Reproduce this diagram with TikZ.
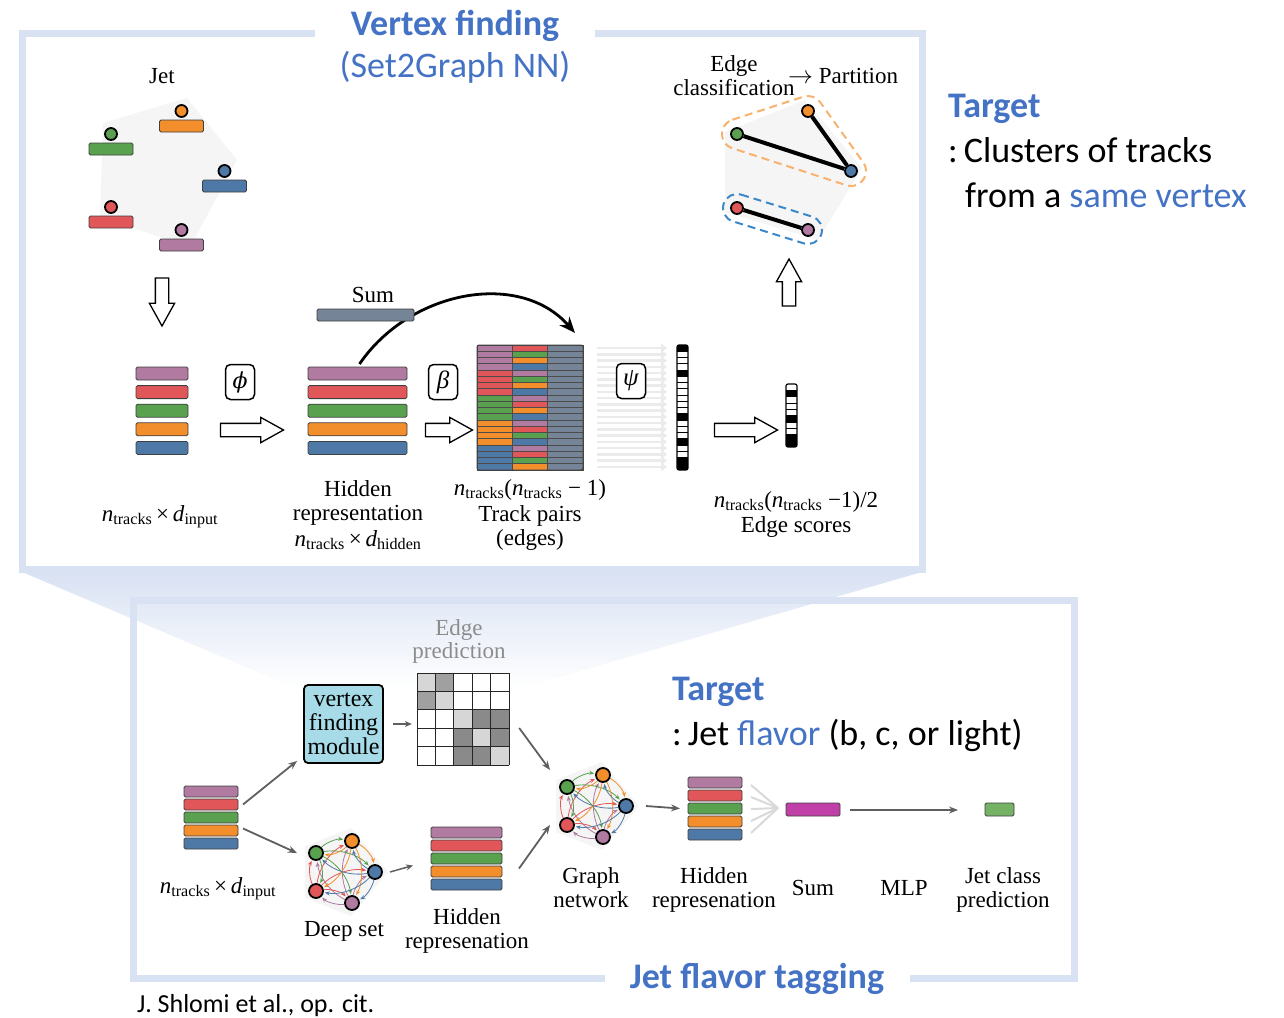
\documentclass[tikz,border=0pt]{standalone}
\usepackage{fontspec}
\setmainfont{Liberation Serif}
\newfontfamily\sansfont{Carlito}
\newfontfamily\greekserif{DejaVu Serif}
\usetikzlibrary{shapes.arrows,arrows.meta,calc}

\definecolor{cpurple}{RGB}{176,122,161}
\definecolor{cred}{RGB}{225,87,89}
\definecolor{cgreen}{RGB}{89,161,79}
\definecolor{corange}{RGB}{242,142,43}
\definecolor{cblue}{RGB}{78,121,167}
\definecolor{cslate}{RGB}{118,132,152}
\definecolor{cmagenta}{RGB}{192,64,168}
\definecolor{clgreen}{RGB}{118,178,102}
\definecolor{frameblue}{RGB}{217,226,243}
\definecolor{titleblue}{RGB}{68,114,196}
\definecolor{modcyan}{RGB}{166,219,231}
\definecolor{flowgray}{RGB}{95,95,95}
\definecolor{faintgray}{RGB}{245,245,245}
\definecolor{labgray}{RGB}{140,140,140}
\definecolor{cellL}{RGB}{214,214,214}
\definecolor{cellM}{RGB}{160,160,160}
\definecolor{cellD}{RGB}{138,138,138}
\definecolor{hullorange}{RGB}{247,178,112}
\definecolor{hullblue}{RGB}{60,135,200}
\colorlet{tc1}{cpurple}
\colorlet{tc2}{cred}
\colorlet{tc3}{cgreen}
\colorlet{tc4}{corange}
\colorlet{tc5}{cblue}

\newcommand\ntr{\textit{n}\textsubscript{tracks}}
\newcommand\dsub[1]{\textit{d}\textsubscript{#1}}

\tikzset{
  trk/.style={draw=black!75, line width=0.8pt, rounded corners=1.5pt, inner sep=0pt, outer sep=0pt},
  lbl/.style={font=\fontsize{23}{25}\selectfont, inner sep=0pt, anchor=base},
  sanslbl/.style={font=\sansfont\fontsize{36}{40}\selectfont, inner sep=0pt, anchor=base west},
  hollow/.style={single arrow, draw=black, line width=1.3pt, fill=white, inner sep=6pt, outer sep=0pt,
     single arrow head extend=6pt, single arrow tip angle=58, minimum height=#1},
  opbox/.style={draw=black, line width=1.5pt, rounded corners=5pt, minimum width=29pt,
     minimum height=35pt, inner sep=0pt, font=\fontsize{25}{25}\selectfont\itshape},
  flow/.style={draw=flowgray, line width=1.8pt, -{Stealth[length=9pt,width=7pt]}},
  dot/.style={circle, draw=black, line width=1.8pt, minimum size=11pt, inner sep=0pt},
  frame/.style={draw=frameblue, line width=7pt},
}

% a set of five tracks drawn as a fully connected graph
\newcommand\trackgraph[3]{%
  \fill[faintgray] (#2-40,#3-26) -- (#2+6,#3-44) -- (#2+43,#3) -- (#2+6,#3+44) -- (#2-40,#3+26) -- cycle;
  \foreach \nm/\dx/\dy in {1/7/31, 2/-29/19, 3/-29/-19, 4/7/-31, 5/30/0}
    \coordinate (#1\nm) at (#2+\dx,#3+\dy);
  \foreach \i in {1,...,5}{\foreach \j in {1,...,5}{\ifnum\i=\j\relax\else
     \draw[tc\i, line width=0.8pt, -{Stealth[length=5pt,width=4pt]}, shorten <=8pt, shorten >=9pt]
        (#1\i) to[bend left=28] (#1\j);
  \fi}}
  \foreach \nm in {1,...,5} \node[dot, fill=tc\nm, minimum size=14pt] (#1n\nm) at (#1\nm) {};
}

\begin{document}
\begin{tikzpicture}[x=1pt,y=-1pt]
\useasboundingbox (0,0) rectangle (1284,1017);

% band joining the two panels
\shade[top color=frameblue, bottom color=white] (22,572) -- (922,572) -- (515,690) -- (300,690) -- cycle;

\draw[frame] (22,33) rectangle (922,569);
\draw[frame] (133,600) rectangle (1074,978);

% ---------- titles ----------
\node[font=\sansfont\bfseries\fontsize{36}{40}\selectfont, text=titleblue, fill=white,
      minimum width=280pt, inner ysep=4pt, anchor=base] (vftitle) at (455,35) {Vertex finding};
\node[font=\sansfont\fontsize{36}{40}\selectfont, text=titleblue, inner sep=0pt, anchor=base]
      (vfsub) at (455,77) {(Set2Graph NN)};
\node[font=\sansfont\bfseries\fontsize{36}{40}\selectfont, text=titleblue, fill=white,
      minimum width=305pt, inner ysep=4pt, anchor=base] (jftitle) at (757,988) {Jet flavor tagging};

\node[sanslbl, font=\sansfont\bfseries\fontsize{36}{40}\selectfont, text=titleblue] (tgt1) at (948,117) {Target};
\node[sanslbl] (tgt1a) at (948,162) {:\,Clusters of tracks};
\node[sanslbl] (tgt1b) at (965,207) {from a \textcolor{titleblue}{same vertex}};

\node[sanslbl, font=\sansfont\bfseries\fontsize{36}{40}\selectfont, text=titleblue] (tgt2) at (672,700) {Target};
\node[sanslbl] (tgt2a) at (672,745) {:\,Jet \textcolor{titleblue}{flavor} (b, c, or light)};

\node[sanslbl, font=\sansfont\fontsize{26}{28}\selectfont] (cite) at (137,1012) {J. Shlomi et al., op. cit.};

% ---------- jet ----------
\node[lbl] (jetlbl) at (162,83) {Jet};
\fill[faintgray] (103,123) -- (187,98) -- (237,160) -- (190,247) -- (100,217) -- cycle;
\foreach \nm/\c/\x/\y in {g/cgreen/111/149, o/corange/181.5/126, b/cblue/224.5/186, r/cred/111/222, p/cpurple/181.5/245}{
  \node[trk, fill=\c, minimum width=44pt, minimum height=12pt] (jbar\nm) at (\x,\y) {};
  \node[dot, fill=\c, minimum size=12pt] (jdot\nm) at (\x,\y-15) {};
}
\node[hollow=48pt, shape border rotate=270] (downarr) at (162,296) {};

% ---------- input and hidden stacks ----------
\foreach \k/\c in {0/cpurple,1/cred,2/cgreen,3/corange,4/cblue}{
  \node[trk, fill=\c, minimum width=52pt, minimum height=13pt] (in\k) at (162,373.5+18.6*\k) {};
  \node[trk, fill=\c, minimum width=99pt, minimum height=13pt] (hid\k) at (357.5,373.5+18.6*\k) {};
}
\node[lbl] (inlbl) at (160,521) {\ntr{}\,×\,\dsub{input}};
\node[lbl] (hidl1) at (358,496) {Hidden};
\node[lbl] (hidl2) at (358,520) {representation};
\node[lbl] (hidl3) at (358,546) {\ntr{}\,×\,\dsub{hidden}};

\node[opbox] (phi) at (240,382) {\greekserif\fontsize{22}{22}\selectfont ϕ};
\node[opbox] (beta) at (443,382) {β};
\node[hollow=63pt] (arr1) at (246,430) {};
\node[hollow=47pt] (arr2) at (443,430) {};

% ---------- sum broadcast ----------
\draw[line width=2.8pt, -{Stealth[length=16pt,width=13pt]}] (hid0.north) ++(2,-3) .. controls (410,290) and (520,270) .. (575,333);
\node[trk, fill=cslate, minimum width=97pt, minimum height=12pt] (sumbar) at (365.5,315) {};
\node[lbl] (sumlbl) at (373,302) {Sum};

% ---------- track pairs ----------
\foreach \i in {1,...,5}{
  \foreach \j in {1,...,5}{
    \ifnum\i=\j\relax\else
      \pgfmathtruncatemacro\kk{\j<\i ? \j : \j-1}
      \pgfmathsetmacro\ytop{345+((\i-1)*4+\kk-1)*6.25}
      \draw[fill=tc\i, draw=black!70, line width=0.6pt] (477,\ytop) rectangle ++(35.3,6.25);
      \draw[fill=tc\j, draw=black!70, line width=0.6pt] (512.3,\ytop) rectangle ++(35.3,6.25);
      \draw[fill=cslate, draw=black!70, line width=0.6pt] (547.6,\ytop) rectangle ++(35.4,6.25);
    \fi
  }
}
\node[draw=black!75, line width=1pt, rounded corners=2pt, minimum width=106pt, minimum height=125pt, inner sep=0pt] (pairs) at (530,407.5) {};
\node[lbl] (pairl1) at (530,495) {\ntr(\ntr{} − 1)};
\node[lbl] (pairl2) at (530,521) {Track pairs};
\node[lbl] (pairl3) at (530,545) {(edges)};

% ---------- psi applied to every pair ----------
\foreach \r in {0,...,19}
  \draw[draw=black!8, line width=2.6pt, -{Triangle[length=6pt,width=9pt]}] (597,348.1+6.25*\r) -- (667,348.1+6.25*\r);
\node[opbox, fill=white] (psi) at (631,381) {ψ};

\fill[white] (677,345) rectangle (688,470);
\foreach \r in {0,4,11,15,18,19}
  \fill[black] (677,345+6.25*\r) rectangle ++(11,6.25);
\foreach \r in {1,...,19}
  \draw[black, line width=0.6pt] (677,345+6.25*\r) -- ++(11,0);
\node[draw=black, line width=1.2pt, rounded corners=2pt, minimum width=11pt, minimum height=125pt, inner sep=0pt] (dirscores) at (682.5,407.5) {};

\node[hollow=63pt] (arr3) at (740,430) {};

\fill[white] (786,384) rectangle (797,447);
\foreach \r in {1,5,8,9}
  \fill[black] (786,384+6.3*\r) rectangle ++(11,6.3);
\foreach \r in {1,...,9}
  \draw[black, line width=0.6pt] (786,384+6.3*\r) -- ++(11,0);
\node[draw=black, line width=1.2pt, rounded corners=2pt, minimum width=11pt, minimum height=63pt, inner sep=0pt] (scores) at (791.5,415.5) {};
\node[lbl] (scl1) at (796,507) {\ntr(\ntr{} −1)/2};
\node[lbl] (scl2) at (796,532) {Edge scores};

\node[hollow=47pt, shape border rotate=90] (uparr) at (789,288.5) {};

% ---------- partition ----------
\node[lbl] (ecl1) at (734,71) {Edge};
\node[lbl] (ecl2) at (734,95) {classification};
\node[lbl, anchor=base west] (partl) at (788,83) {$\rightarrow$ Partition};
\fill[faintgray] (725,132) -- (805,100) -- (862,168) -- (818,240) -- (725,212) -- cycle;
\coordinate (pG) at (737,134);
\coordinate (pO) at (808,111);
\coordinate (pB) at (851,171);
\coordinate (pR) at (737,208);
\coordinate (pP) at (808,230);
\draw[hullorange, line width=2pt, dash pattern=on 8pt off 5pt]
  ($(pG)+(252:15)$) -- ($(pO)+(252:15)$) arc[start angle=252, end angle=324.4, radius=15]
  -- ($(pB)+(324.4:15)$) arc[start angle=324.4, end angle=468, radius=15]
  -- ($(pG)+(108:15)$) arc[start angle=108, end angle=252, radius=15] -- cycle;
\draw[hullblue, line width=2pt, dash pattern=on 8pt off 5pt]
  ($(pR)+(287.2:14)$) -- ($(pP)+(287.2:14)$) arc[start angle=-72.8, end angle=107.2, radius=14]
  -- ($(pR)+(107.2:14)$) arc[start angle=107.2, end angle=287.2, radius=14] -- cycle;
\node[dot, fill=cgreen, minimum size=12pt] (ng) at (pG) {};
\node[dot, fill=corange, minimum size=12pt] (no) at (pO) {};
\node[dot, fill=cblue, minimum size=12pt] (nb) at (pB) {};
\node[dot, fill=cred, minimum size=12pt] (nr) at (pR) {};
\node[dot, fill=cpurple, minimum size=12pt] (np) at (pP) {};
\draw[line width=4pt] (ng) -- (nb);
\draw[line width=4pt] (no) -- (nb);
\draw[line width=4pt] (nr) -- (np);

% ---------- jet flavour tagging ----------
\foreach \k/\c in {0/cpurple,1/cred,2/cgreen,3/corange,4/cblue}{
  \node[trk, fill=\c, minimum width=54pt, minimum height=11pt] (bin\k) at (211,791.5+13*\k) {};
  \node[trk, fill=\c, minimum width=71pt, minimum height=11pt] (bhid\k) at (466.5,832.5+13*\k) {};
  \node[trk, fill=\c, minimum width=54pt, minimum height=11pt] (bhidr\k) at (715,782.5+13*\k) {};
}
\node[lbl] (binlbl) at (218,893) {\ntr{}\,×\,\dsub{input}};

\node[draw=black, line width=1.8pt, rounded corners=4pt, fill=modcyan, minimum width=79pt,
      minimum height=78pt, inner sep=0pt, align=center, font=\fontsize{24}{24}\selectfont] (vfm) at (343.5,724) {vertex\\finding\\module};

\node[lbl, text=labgray] (epl1) at (459,635) {Edge};
\node[lbl, text=labgray] (epl2) at (459,658) {prediction};
\fill[white] (417,673) rectangle (509,765);
\foreach \r/\c/\col in {0/0/cellL,0/1/cellM,1/0/cellM,1/1/cellL,2/2/cellL,2/3/cellD,2/4/cellD,3/2/cellD,3/3/cellL,3/4/cellD,4/2/cellD,4/3/cellD,4/4/cellL}
  \fill[\col] (417+18.4*\c,673+18.4*\r) rectangle ++(18.4,18.4);
\foreach \k in {0,...,5}{
  \draw[black!85, line width=0.8pt] (417+18.4*\k,673) -- ++(0,92);
  \draw[black!85, line width=0.8pt] (417,673+18.4*\k) -- ++(92,0);
}
\node[minimum width=92pt, minimum height=92pt, inner sep=0pt] (epmat) at (463,719) {};

\trackgraph{ds}{345}{872}
\node[lbl] (dslbl) at (344,936) {Deep set};
\node[lbl] (bhl1) at (467,924) {Hidden};
\node[lbl] (bhl2) at (467,948) {represenation};

\trackgraph{gn}{596}{806}
\node[lbl] (gnl1) at (591,883) {Graph};
\node[lbl] (gnl2) at (591,907) {network};
\node[lbl] (rhl1) at (714,883) {Hidden};
\node[lbl] (rhl2) at (714,907) {represenation};

\foreach \dy in {-24,-12,0,12,24}
  \draw[black!15, line width=2pt] (751,809+\dy) -- (778,808);
\node[trk, fill=cmagenta, minimum width=54pt, minimum height=13pt] (sumv) at (813,809.5) {};
\node[lbl] (suml) at (813,895) {Sum};
\node[lbl] (mlpl) at (904,895) {MLP};
\node[trk, fill=clgreen, minimum width=29pt, minimum height=13pt] (jetcls) at (999.5,809.5) {};
\node[lbl] (jcl1) at (1003,883) {Jet class};
\node[lbl] (jcl2) at (1003,907) {prediction};

% flow arrows
\draw[flow] ($(bin1.east)+(5,0)$) -- ($(vfm.south west)+(-6,-3)$);
\draw[flow] ($(bin3.east)+(5,-2)$) -- ($(dsn3)+(-19,0)$);
\draw[flow, line width=1.5pt, -{Stealth[length=7pt,width=6pt]}] ($(vfm.east)+(9,0)$) -- ($(epmat.west)+(-5,5)$);
\draw[flow] ($(epmat.east)+(10,9)$) -- ($(gnn3)+(-17,-17)$);
\draw[flow] ($(bhid3.east)+(17,-3)$) -- ($(gnn2)+(-17,0)$);
\draw[flow, line width=1.5pt, -{Stealth[length=7pt,width=6pt]}] ($(dsn5)+(15,0)$) -- ($(bhid3.west)+(-18,-6)$);
\draw[flow] ($(gnn5)+(20,0)$) -- ($(bhidr2.west)+(-8,0)$);
\draw[flow] ($(sumv.east)+(10,0.5)$) -- ($(jetcls.west)+(-27,0.5)$);
\end{tikzpicture}
\end{document}
